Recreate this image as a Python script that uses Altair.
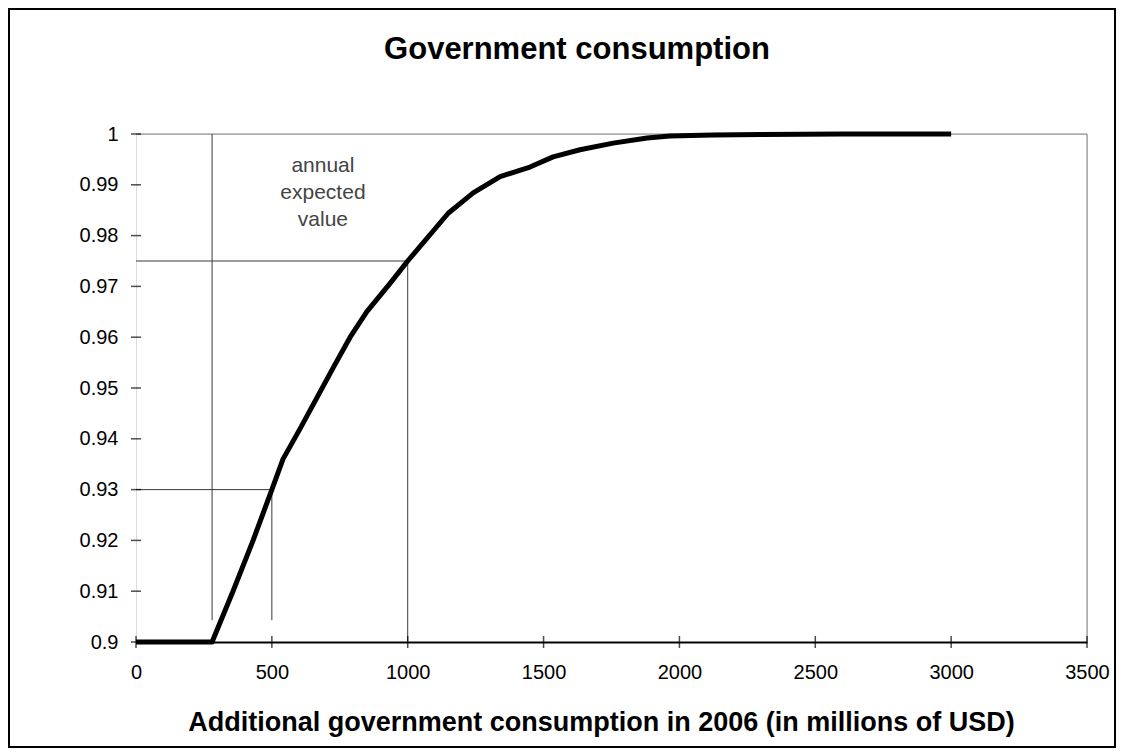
import altair as alt
import pandas as pd

# Curve: cumulative probability vs additional government consumption
curve_x = [0, 280, 357, 431, 500, 541, 604, 665, 726, 788, 849, 935, 1000,
           1149, 1241, 1340, 1450, 1535, 1634, 1756, 1881, 1965, 2124, 2300, 2600, 3000]
curve_y = [0.9, 0.9, 0.910, 0.920, 0.930, 0.936, 0.942, 0.948, 0.954, 0.960, 0.965,
           0.9706, 0.975, 0.9844, 0.9884, 0.9916, 0.9935, 0.9955, 0.9969, 0.9982,
           0.9992, 0.9996, 0.9998, 0.9999, 1.0, 1.0]

# Reference (guide) segments
seg_x1 = [280, 500, 1000, 0, 0]
seg_x2 = [280, 500, 1000, 500, 1000]
seg_y1 = [0.9043, 0.9043, 0.9, 0.93, 0.975]
seg_y2 = [1.0, 0.93, 0.975, 0.93, 0.975]

# Plot-area border (top and right)
bord_x1 = [0, 3500]
bord_x2 = [3500, 3500]
bord_y1 = [1.0, 0.9]
bord_y2 = [1.0, 1.0]

x_ticks = [0, 500, 1000, 1500, 2000, 2500, 3000, 3500]
y_ticks = [0.9, 0.91, 0.92, 0.93, 0.94, 0.95, 0.96, 0.97, 0.98, 0.99, 1.0]

# annotation (first line anchored at this point)
note_x = [688]
note_y = [0.9937]
note_text = ["annual\nexpected\nvalue"]

title_text = ["Government consumption"]

FONT = "Liberation Sans"

xs = alt.Scale(domain=[0, 3500], nice=False, zero=False)
ys = alt.Scale(domain=[0.9, 1.0], nice=False, zero=False)

curve_df = pd.DataFrame({"x": curve_x, "y": curve_y})
seg_df = pd.DataFrame({"x": seg_x1, "x2": seg_x2, "y": seg_y1, "y2": seg_y2})
bord_df = pd.DataFrame({"x": bord_x1, "x2": bord_x2, "y": bord_y1, "y2": bord_y2})
xt_df = pd.DataFrame({"v": x_ticks})
yt_df = pd.DataFrame({"v": y_ticks})
note_df = pd.DataFrame({"x": note_x, "y": note_y, "t": note_text})
title_df = pd.DataFrame({"t": title_text})

x_axis = alt.Axis(
    values=x_ticks, ticks=False, grid=False, domain=True, domainColor="black",
    domainWidth=2, labelFont=FONT, labelFontSize=20, labelColor="black",
    labelPadding=20, format="d",
    title="Additional government consumption in 2006 (in millions of USD)",
    titleFont=FONT, titleFontSize=27, titleFontWeight="bold", titleColor="black",
    titleX=465, titleY=80, titleBaseline="middle", labelFlush=False,
)
y_axis = alt.Axis(
    values=y_ticks, ticks=False, grid=False, domain=False,
    labelFont=FONT, labelFontSize=20, labelColor="black", labelPadding=18,
    labelExpr="format(datum.value, '.2~f')", title=None,
)

borders = alt.Chart(bord_df).mark_rule(color="#808080", strokeWidth=1).encode(
    x=alt.X("x:Q", scale=xs, axis=x_axis), x2="x2:Q",
    y=alt.Y("y:Q", scale=ys, axis=y_axis), y2="y2:Q",
)

guides = alt.Chart(seg_df).mark_rule(color="#3a3a3a", strokeWidth=1).encode(
    x=alt.X("x:Q", scale=xs), x2="x2:Q",
    y=alt.Y("y:Q", scale=ys), y2="y2:Q",
)

curve = alt.Chart(curve_df).mark_line(color="black", strokeWidth=5, strokeJoin="round").encode(
    x=alt.X("x:Q", scale=xs), y=alt.Y("y:Q", scale=ys)
)

xticks = alt.Chart(xt_df).mark_tick(orient="vertical", size=12, thickness=1.5, color="black").encode(
    x=alt.X("v:Q", scale=xs), y=alt.datum(0.9)
)
yticks = alt.Chart(yt_df).mark_tick(orient="horizontal", size=10, thickness=1.5, color="black").encode(
    y=alt.Y("v:Q", scale=ys), x=alt.datum(0)
)

note = alt.Chart(note_df).mark_text(
    font=FONT, fontSize=21, color="#444444", align="center", baseline="middle",
    lineBreak="\n", lineHeight=27,
).encode(x=alt.X("x:Q", scale=xs), y=alt.Y("y:Q", scale=ys), text="t:N")

title = alt.Chart(title_df).mark_text(
    font=FONT, fontSize=31, fontWeight="bold", color="black",
    align="center", baseline="middle",
).encode(x=alt.value(441), y=alt.value(-84), text="t:N")

frame = alt.Chart(pd.DataFrame({"a": [0]})).mark_rect(
    filled=False, stroke="black", strokeWidth=2
).encode(
    x=alt.value(-127), x2=alt.value(979), y=alt.value(-125), y2=alt.value(613)
)

chart = alt.layer(borders, guides, curve, xticks, yticks, note, title, frame).properties(
    width=951, height=508,
    autosize=alt.AutoSizeParams(type="none"),
    padding={"left": 128, "top": 126, "right": 29, "bottom": 106},
).configure_view(stroke=None).configure(background="white")

chart.save("out.html", embed_options={"renderer": "svg", "actions": False})
